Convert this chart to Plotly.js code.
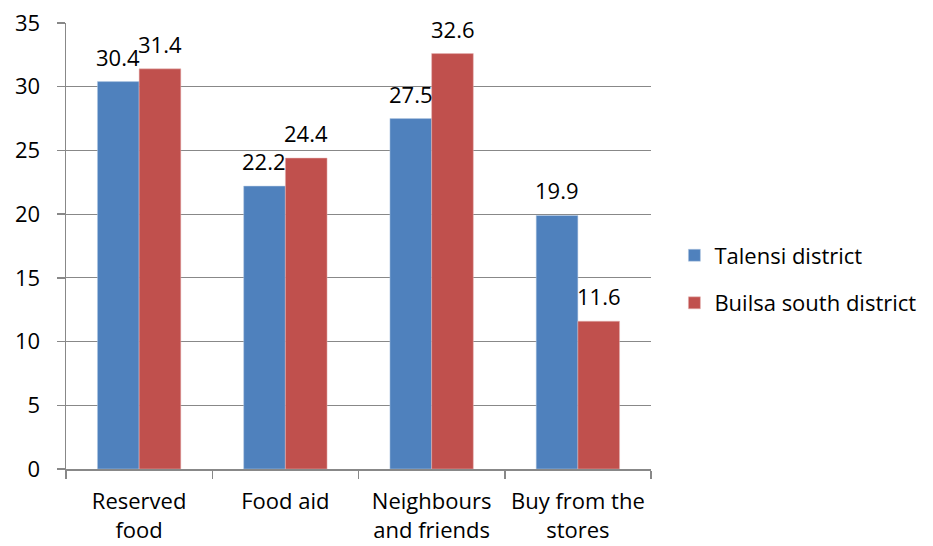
<!DOCTYPE html>
<html><head><meta charset="utf-8">
<script src="https://cdn.plot.ly/plotly-3.0.1.min.js"></script>
<style>html,body{margin:0;padding:0;background:#fff}</style>
</head><body>
<div id="chart" style="width:933px;height:546px"></div>
<script>
const categories = ["Reserved<br>food", "Food aid", "Neighbours<br>and friends", "Buy from the<br>stores"];
const talensi = [30.4, 22.2, 27.5, 19.9];
const builsa = [31.4, 24.4, 32.6, 11.6];
const yTicks = [0, 5, 10, 15, 20, 25, 30, 35];

const font = {family: "'Open Sans', Lato, sans-serif", size: 22, color: "#000"};
const traces = [
  {type: "bar", name: "Talensi district", legendgroup: "a", x: categories, y: talensi,
   marker: {color: "#4F81BD", line: {color: "#B9CDE5", width: 0.5}}},
  {type: "bar", name: "Builsa south district", legendgroup: "b", x: categories, y: builsa,
   marker: {color: "#C0504D", line: {color: "#E6B9B8", width: 0.5}}}
];
const annotations = [];
categories.forEach((c, i) => {
  annotations.push({x: c, y: talensi[i], text: talensi[i].toFixed(1), xshift: -21, yshift: 8,
    yanchor: "bottom", showarrow: false, font: font});
  annotations.push({x: c, y: builsa[i], text: builsa[i].toFixed(1), xshift: 21, yshift: 8,
    yanchor: "bottom", showarrow: false, font: font});
});
const layout = {
  width: 933, height: 546,
  margin: {l: 66, r: 279, t: 23, b: 77},
  paper_bgcolor: "#fff", plot_bgcolor: "#fff",
  font: font,
  barmode: "group", bargap: 0.43, bargroupgap: 0,
  showlegend: true,
  annotations: annotations,
  legend: {x: 1.04, y: 0.425, xanchor: "left", yanchor: "middle", font: font,
           tracegroupgap: 16, itemwidth: 30},
  xaxis: {showline: true, linecolor: "#888", linewidth: 1.5, ticks: "outside", tickson: "boundaries",
          ticklen: 8, tickcolor: "#888", tickwidth: 1.5, showgrid: false, tickfont: font,
          ticklabelstandoff: 12},
  yaxis: {range: [0, 35], tickvals: yTicks, showline: true, linecolor: "#888", linewidth: 1.5,
          ticks: "outside", ticklen: 8, tickcolor: "#888", tickwidth: 1.5,
          gridcolor: "#888", gridwidth: 1.2, zeroline: false, tickfont: font, ticklabelstandoff: 12}
};
Plotly.newPlot("chart", traces, layout, {displayModeBar: false, staticPlot: true});
</script>
</body></html>
